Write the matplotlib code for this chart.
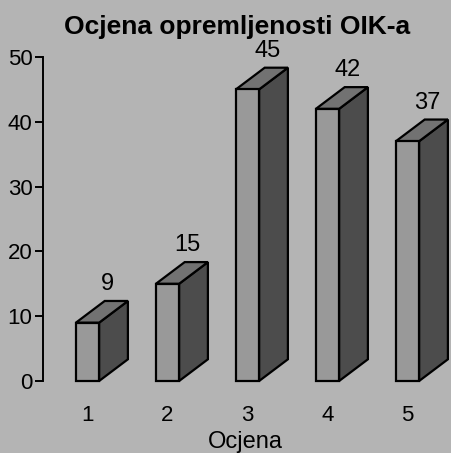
import matplotlib.pyplot as plt
from matplotlib.patches import Polygon

# Data.
categories = ["1", "2", "3", "4", "5"]
counts = [9, 15, 45, 42, 37]

plt.rcParams["font.family"] = ["Liberation Sans", "DejaVu Sans"]

bg = "#b4b4b4"
front_col = "#999999"
top_col = "#727272"
side_col = "#4c4c4c"

fig = plt.figure(figsize=(4.52, 4.53), dpi=100, facecolor=bg)
ax = fig.add_axes([43 / 452, (453 - 381) / 453, (452 - 43) / 452, (381 - 57) / 453])
ax.set_facecolor(bg)

xs = list(range(1, len(categories) + 1))
w = 0.29      # front face width
dx = 0.36     # depth, x units
dy = 3.35     # depth, y units

for x, h in zip(xs, counts):
    x0 = x - w / 2
    x1 = x + w / 2
    front = [(x0, 0), (x1, 0), (x1, h), (x0, h)]
    side = [(x1, 0), (x1 + dx, dy), (x1 + dx, h + dy), (x1, h)]
    top = [(x0, h), (x1, h), (x1 + dx, h + dy), (x0 + dx, h + dy)]
    for pts, c in [(side, side_col), (top, top_col), (front, front_col)]:
        ax.add_patch(Polygon(pts, closed=True, facecolor=c, edgecolor="black",
                             linewidth=1.6, joinstyle="miter", clip_on=False))
    ax.text(x + dx / 2 + 0.07, h + dy + 2.6, str(h), ha="center", va="center",
            fontsize=17, color="black")

ax.set_xlim(1 - 44.5 / 80, 1 + (452 - 87.5) / 80)
ax.set_ylim(0, 50)
ax.set_yticks(range(0, 51, 10))
ax.set_xticks(xs)
ax.set_xticklabels(categories)

for s in ["top", "right", "bottom"]:
    ax.spines[s].set_visible(False)
ax.spines["left"].set_linewidth(1.4)
ax.tick_params(axis="y", length=6, width=1.4, pad=1.5, labelsize=16)
ax.tick_params(axis="x", length=0, pad=17, labelsize=16)

fig.text(245 / 452, 1 - 442 / 453, "Ocjena", ha="center", va="center", fontsize=17)
fig.text(237 / 452, 1 - 27 / 453, "Ocjena opremljenosti OIK-a", ha="center",
         va="center", fontsize=19, fontweight="bold")

fig.savefig("out.png", dpi=100, facecolor=bg)
